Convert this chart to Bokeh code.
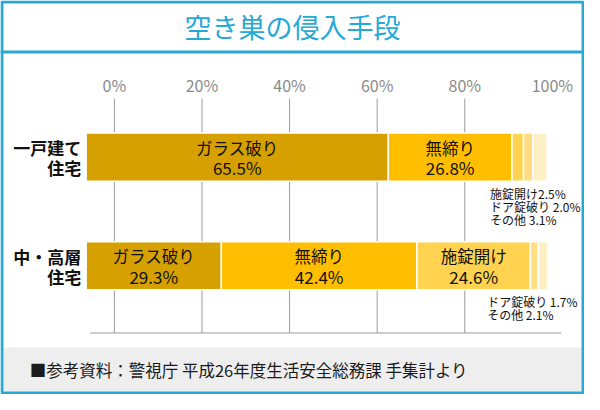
from bokeh.plotting import figure
from bokeh.models import Range1d, ColumnDataSource
from bokeh.core.properties import value
from bokeh.embed import file_html
from bokeh.resources import INLINE

# ---- data ----
title_text = "空き巣の侵入手段"
source_text = "■参考資料：警視庁 平成26年度生活安全総務課 手集計より"
categories = [["一戸建て", "住宅"], ["中・高層", "住宅"]]
methods = ["ガラス破り", "無締り", "施錠開け", "ドア錠破り", "その他"]
house_vals = [65.5, 26.8, 2.5, 2.0, 3.1]
apart_vals = [29.3, 42.4, 24.6, 1.7, 2.1]
ticks = [0, 20, 40, 60, 80, 100]
tick_labels = ["0%", "20%", "40%", "60%", "80%", "100%"]

# ---- style ----
FONT = "Noto Sans CJK JP"
CYAN = "#27A8D5"
colors = ["#D6A000", "#FFBE00", "#FFD34F", "#FFDD80", "#FFEFC4"]

W, H = 584, 394
BAR_X0, BAR_PX = 88.0, 4.74      # reference px of 0% and px per % for bars
TICK_X0, TICK_PX = 117.0, 4.5    # reference px of 0% and px per % for the scale

p = figure(width=W, height=H, output_backend="svg", toolbar_location=None,
           x_range=Range1d((0 - BAR_X0) / BAR_PX, (600 - BAR_X0) / BAR_PX),
           y_range=Range1d(410, 0),
           x_axis_location=None, y_axis_location=None,
           min_border=0, tools="")
p.extra_x_ranges = {
    "px": Range1d(0, 600),
    "tick": Range1d((0 - TICK_X0) / TICK_PX, (600 - TICK_X0) / TICK_PX),
}
p.grid.visible = False
p.outline_line_color = None
p.background_fill_color = "white"
p.border_fill_color = "white"

# footer band
p.quad(left=[3], right=[597], top=[361], bottom=[407], fill_color="#EEEEEE",
       line_color=None, x_range_name="px")
# outer border + header separator
p.quad(left=[1.5], right=[598.5], top=[1.5], bottom=[408.5], fill_color=None,
       line_color=CYAN, line_width=3, x_range_name="px")
p.segment(x0=[0], x1=[600], y0=[53.5], y1=[53.5], line_color=CYAN, line_width=3,
          x_range_name="px")

# title
p.text(x=[300], y=[27], text=[title_text], text_font=value(FONT),
       text_font_size="27px", text_color=CYAN, text_align="center",
       text_baseline="middle", x_range_name="px")

# grid lines and scale labels
grid_ticks = [t for t in ticks if t < 100]
p.segment(x0=grid_ticks, x1=grid_ticks, y0=[102] * len(grid_ticks),
          y1=[346] * len(grid_ticks), line_color="#9A9A9A", line_width=1,
          x_range_name="tick")
p.segment(x0=[92], x1=[576], y0=[346], y1=[346], line_color="#9A9A9A",
          line_width=1, x_range_name="px")
p.text(x=ticks, y=[88] * len(ticks), text=tick_labels, text_font=value(FONT),
       text_font_size="16px", text_color="#8A8A8A", text_align="center",
       text_baseline="middle", x_range_name="tick")

# bars
bar_y = [163, 276]
for yc, vals in zip(bar_y, [house_vals, apart_vals]):
    lefts, rights = [], []
    acc = 0.0
    for v in vals:
        lefts.append(acc)
        acc += v
        rights.append(acc)
    src = ColumnDataSource(dict(left=lefts, right=rights, y=[yc] * len(vals),
                                color=colors))
    p.hbar(y="y", left="left", right="right", height=50, fill_color="color",
           line_color="white", line_width=1.5, source=src)

# in-bar labels
def seg_center(vals, i):
    return sum(vals[:i]) + vals[i] / 2

inside = [(0, house_vals, [0, 1]), (1, apart_vals, [0, 1, 2])]
for bi, vals, idxs in inside:
    xs = [seg_center(vals, i) for i in idxs]
    names = [methods[i] for i in idxs]
    pcts = [f"{vals[i]:.1f}%" for i in idxs]
    p.text(x=xs, y=[bar_y[bi] - 10] * len(xs), text=names, text_font=value(FONT),
           text_font_size="16.5px", text_color="#111111", text_align="center",
           text_baseline="middle")
    p.text(x=xs, y=[bar_y[bi] + 11] * len(xs), text=pcts, text_font=value(FONT),
           text_font_size="17px", text_color="#111111", text_align="center",
           text_baseline="middle")

# category labels
for yc, lines in zip(bar_y, categories):
    p.text(x=[83, 83], y=[yc - 10, yc + 11], text=lines, text_font=value(FONT),
           text_font_size="17px", text_font_style="bold", text_color="#111111",
           text_align="right", text_baseline="middle", x_range_name="px")

# small-segment notes
notes1 = [f"{methods[2]}{house_vals[2]:.1f}%", f"{methods[3]} {house_vals[3]:.1f}%",
          f"{methods[4]} {house_vals[4]:.1f}%"]
notes2 = [f"{methods[3]} {apart_vals[3]:.1f}%", f"{methods[4]} {apart_vals[4]:.1f}%"]
p.text(x=[503] * 3, y=[201, 214.5, 228], text=notes1, text_font=value(FONT),
       text_font_size="12px", text_color="#111111", text_align="left",
       text_baseline="middle", x_range_name="px")
p.text(x=[500] * 2, y=[313, 326.5], text=notes2, text_font=value(FONT),
       text_font_size="12px", text_color="#111111", text_align="left",
       text_baseline="middle", x_range_name="px")

# footer
p.text(x=[30], y=[384], text=[source_text], text_font=value(FONT),
       text_font_size="16.5px", text_color="#1A1A1A", text_align="left",
       text_baseline="middle", x_range_name="px")

open("out.html", "w").write(file_html(p, INLINE))
